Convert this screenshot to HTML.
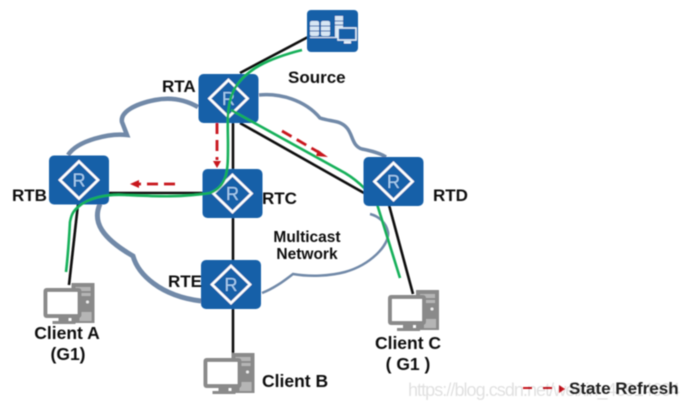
<!DOCTYPE html>
<html><head><meta charset="utf-8"><style>
html,body{margin:0;padding:0;background:#fff}
svg{display:block}
text{font-family:"Liberation Sans",sans-serif;font-weight:bold;fill:#111}
</style></head><body>
<svg width="689" height="408" viewBox="0 0 689 408" xmlns="http://www.w3.org/2000/svg">
<defs>
<filter id="b" x="-5%" y="-5%" width="110%" height="110%"><feGaussianBlur stdDeviation="0.6"/></filter>
<g id="r">
<rect x="0" y="0" width="60" height="49" rx="5" fill="#1560a8"/>
<polygon points="30,6 49,24.5 30,43 11,24.5" fill="none" stroke="#fff" stroke-width="2.6"/>
<text x="30" y="31" font-size="18" text-anchor="middle" style="font-weight:normal;fill:#a9cdee">R</text>
</g>
<g id="pc">
<rect x="28" y="0" width="23" height="40" fill="#8a8a8a"/>
<rect x="32" y="4" width="15" height="4" fill="#b5b5b5"/>
<rect x="32" y="10" width="15" height="3" fill="#b5b5b5"/>
<circle cx="44" cy="19" r="1.5" fill="#eee"/>
<rect x="36" y="29" width="12" height="9" fill="#b5b5b5"/>
<rect x="0" y="5" width="38" height="30" rx="3" fill="#8a8a8a"/>
<rect x="4" y="9" width="30" height="22" fill="#fff"/>
<rect x="15" y="35" width="10" height="3" fill="#8a8a8a"/>
<rect x="9" y="38" width="23" height="3" fill="#8a8a8a"/>
</g>
</defs>
<g filter="url(#b)">
<g fill="none" stroke="#7189a8" stroke-width="4">
<path d="M198 107C184 99 170 97 155 100C135 104 120 112 122 122L127 135C110 133 78 140 68 155" stroke-width="4.5"/>
<path d="M259 95C280 93 305 100 320 118C332 122 340 120 347 128C353 135 352 146 362 149C372 151 380 153 386 157" stroke-width="3.5"/>
<path d="M100 204C92 222 102 238 133 256C138 274 160 296 201 301" stroke-width="5"/>
<path d="M262 293C275 288 285 280 293 274C310 277 330 276 345 272C370 265 390 245 388 232C386 222 378 216 370 214" stroke-width="2.5"/>
</g>
<g fill="none" stroke="#0c0c0c" stroke-width="2.6">
<line x1="240" y1="73" x2="308" y2="37"/>
<line x1="233" y1="122" x2="233" y2="170"/>
<line x1="240" y1="123" x2="364" y2="193"/>
<line x1="108" y1="193" x2="203" y2="193"/>
<line x1="233" y1="217" x2="233" y2="261"/>
<line x1="233" y1="308" x2="233" y2="354"/>
<line x1="78" y1="204" x2="69" y2="285"/>
<line x1="389" y1="205" x2="413" y2="294"/>
</g>
<use href="#r" x="198.500" y="74"/>
<use href="#r" x="49" y="155.500"/>
<use href="#r" x="202.500" y="169"/>
<use href="#r" x="201" y="260"/>
<rect x="307" y="10" width="51" height="42" rx="4" fill="#1560a8"/>
<g fill="#d7e6f4">
<rect x="310" y="21" width="9" height="15" rx="2"/>
<rect x="321" y="21" width="9" height="15" rx="2"/>
<rect x="335" y="16" width="8" height="21"/>
</g>
<g stroke="#1560a8" stroke-width="1">
<line x1="310" y1="26" x2="330" y2="26"/>
<line x1="310" y1="31" x2="330" y2="31"/>
<line x1="335" y1="21" x2="343" y2="21"/>
<line x1="335" y1="25" x2="343" y2="25"/>
</g>
<rect x="310" y="37" width="30" height="1" fill="#d7e6f4"/>
<rect x="338" y="28" width="18" height="12" fill="#1560a8" stroke="#e6f0fa" stroke-width="1.5"/>
<rect x="344" y="41" width="7" height="2.500" fill="#e6f0fa"/>
<g fill="none" stroke="#16b05a" stroke-width="2.600" stroke-linecap="butt">
<path d="M302 50C270 58 243 70 233 92C226 108 228 125 228 145C228 170 228 186 210 193C180 198 150 196 125 195C105 194 88 198 78 207C72 212 71 217 70 222C69 240 68 255 66 272"/>
<path d="M231 110L345 173C360 182 372 195 377 204L400 278"/>
</g>
<use href="#r" x="363.500" y="157"/>
<g fill="none" stroke="#c8141e" stroke-width="2.800" stroke-dasharray="11 6">
<line x1="217" y1="123" x2="217" y2="160"/>
<line x1="175" y1="184" x2="139" y2="184"/>
<line x1="282" y1="131" x2="320" y2="153"/>
</g>
<g fill="#c8141e">
<polygon points="213,161 221,161 217,168"/>
<polygon points="139,180 139,188 130,184"/>
<polygon points="318,150 328,157 316,156"/>
<polygon points="559,385 565,389 559,393"/>
<rect x="523" y="387" width="9" height="2"/>
<rect x="543" y="387" width="9" height="2"/>
</g>
<use href="#pc" x="43.500" y="283"/>
<use href="#pc" x="203.500" y="353"/>
<use href="#pc" x="388" y="290"/>
<text x="162" y="92" font-size="17">RTA</text>
<text x="288" y="83" font-size="17">Source</text>
<text x="12" y="201" font-size="17">RTB</text>
<text x="262" y="204" font-size="17">RTC</text>
<text x="433" y="201" font-size="17">RTD</text>
<text x="168" y="287" font-size="17">RTE</text>
<text x="307" y="242" font-size="15.500" text-anchor="middle">Multicast</text>
<text x="307" y="259" font-size="15.500" text-anchor="middle">Network</text>
<text x="67" y="339" font-size="17.500" text-anchor="middle">Client A</text>
<text x="68" y="360" font-size="17.500" text-anchor="middle">(G1)</text>
<text x="262" y="387" font-size="17.500">Client B</text>
<text x="408" y="349" font-size="17.500" text-anchor="middle">Client C</text>
<text x="408" y="370" font-size="17.500" text-anchor="middle">( G1 )</text>
<text x="569" y="394" font-size="17" style="fill:#222">State Refresh</text>
<text x="408" y="396" font-size="18" textLength="272" style="font-weight:normal;fill:#000;fill-opacity:.12">https://blog.csdn.net/weixin_43914604</text>
</g>
</svg>
</body></html>
